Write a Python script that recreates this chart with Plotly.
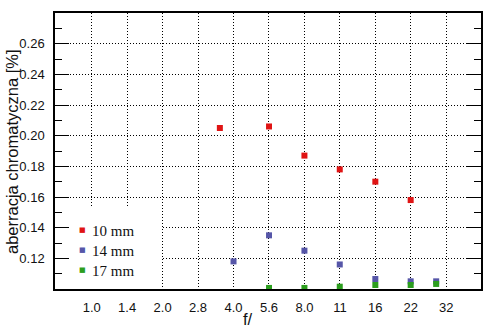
import plotly.graph_objects as go

# f-numbers (positions) and chromatic aberration [%]
f_10mm = [3.5, 5.66, 8.0, 11.3, 16.0, 22.6]
ca_10mm = [0.205, 0.206, 0.187, 0.178, 0.170, 0.158]

f_14mm = [4.0, 5.66, 8.0, 11.3, 16.0, 22.6, 29.0]
ca_14mm = [0.118, 0.135, 0.125, 0.116, 0.1065, 0.105, 0.105]

f_17mm = [4.35, 5.66, 8.0, 11.3, 16.0, 22.6, 29.0]
ca_17mm = [0.0996, 0.1007, 0.1007, 0.1015, 0.1026, 0.1026, 0.1033]

series_names = ["10 mm", "14 mm", "17 mm"]
series_colors = ["#e01414", "#5656a8", "#2c9e1e"]

x_tick_text = ["1.0", "1.4", "2.0", "2.8", "4.0", "5.6", "8.0", "11", "16", "22", "32"]
x_tick_vals = [2 ** (i / 2) for i in range(len(x_tick_text))]
y_tick_vals = [0.12, 0.14, 0.16, 0.18, 0.20, 0.22, 0.24, 0.26]
y_tick_text = ["%.2f" % v for v in y_tick_vals]
y_minor_vals = [0.11, 0.13, 0.15, 0.17, 0.19, 0.21, 0.23, 0.25, 0.27]

series = list(zip(series_names, [f_10mm, f_14mm, f_17mm],
                  [ca_10mm, ca_14mm, ca_17mm], series_colors))

W, H = 494, 331
ML, MR, MT, MB = 55, 13, 13, 42
PW, PH = W - ML - MR, H - MT - MB

def px_x(px):
    return (px - ML) / PW

def px_y(py):
    return (H - MB - py) / PH

tick_font = dict(family="Liberation Sans Narrow, Arial Narrow, Liberation Sans, Arial, sans-serif",
                 size=13, color="#111111")
title_font = dict(family="Liberation Sans, Arial, sans-serif", size=16.5, color="#111111")
legend_font = dict(family="Liberation Serif, Times New Roman, serif", size=15, color="#111111")

fig = go.Figure()
for name, xs, ys, col in series:
    fig.add_trace(go.Scatter(
        x=xs, y=ys, mode="markers", name=name,
        marker=dict(symbol="square", size=6, color=col, line=dict(width=0)),
        cliponaxis=False, showlegend=False,
    ))

# legend (white box + entries)
shapes = [dict(type="rect", xref="paper", yref="paper",
               x0=px_x(70), x1=px_x(162), y0=px_y(287.5), y1=px_y(206),
               fillcolor="white", line=dict(width=0), layer="above")]
annotations = []
row0, row_gap = 229.5, 20
for i, (name, col) in enumerate(zip(series_names, series_colors)):
    yc = row0 + i * row_gap
    annotations.append(dict(text="■", xref="paper", yref="paper",
                            x=px_x(82.7), y=px_y(yc), xanchor="center", yanchor="middle",
                            showarrow=False, borderpad=0,
                            font=dict(family="DejaVu Sans, sans-serif", size=7, color=col)))
    annotations.append(dict(text=name, xref="paper", yref="paper",
                            x=px_x(91), y=px_y(yc + 1.5), xanchor="left", yanchor="middle",
                            showarrow=False, borderpad=0, font=legend_font))

annotations.append(dict(text="f/", xref="paper", yref="paper", x=px_x(248), y=px_y(319),
                        xanchor="center", yanchor="middle", showarrow=False, borderpad=0,
                        font=title_font))
annotations.append(dict(text="aberracja chromatyczna [%]", xref="paper", yref="paper",
                        x=px_x(12), y=px_y(152), xanchor="center", yanchor="middle",
                        textangle=-90, showarrow=False, borderpad=0, font=title_font))

fig.update_layout(
    width=W, height=H,
    margin=dict(l=ML, r=MR, t=MT, b=MB),
    paper_bgcolor="white", plot_bgcolor="white",
    showlegend=False,
    shapes=shapes,
    annotations=annotations,
    xaxis=dict(
        type="log",
        range=[-0.1558, 1.6527],
        tickmode="array", tickvals=x_tick_vals, ticktext=x_tick_text,
        ticks="", showgrid=True, gridcolor="black", gridwidth=1, griddash="1px,2px",
        showline=True, linecolor="black", linewidth=1.5, mirror=True,
        zeroline=False, tickfont=tick_font, ticklabelstandoff=6,
    ),
    yaxis=dict(
        range=[0.10, 0.28],
        tickmode="array", tickvals=y_tick_vals, ticktext=y_tick_text,
        ticks="inside", ticklen=14, tickwidth=1, tickcolor="black",
        minor=dict(tickmode="array", tickvals=y_minor_vals, ticks="inside",
                   ticklen=7, tickwidth=1, tickcolor="black", showgrid=False),
        showgrid=True, gridcolor="black", gridwidth=1, griddash="1px,2px",
        showline=True, linecolor="black", linewidth=1.5, mirror="ticks",
        zeroline=False, tickfont=tick_font, ticklabelstandoff=6,
    ),
)

fig.write_html("out.html")
